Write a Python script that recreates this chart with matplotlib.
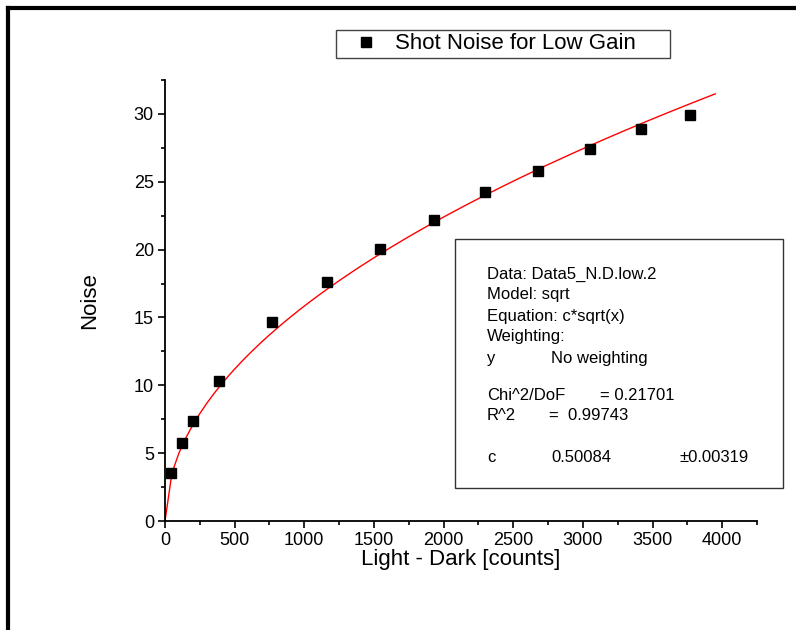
import numpy as np
import matplotlib
matplotlib.use("Agg")
import matplotlib.pyplot as plt
from matplotlib.lines import Line2D
from matplotlib.patches import Rectangle

plt.rcParams['font.family'] = ['Liberation Sans', 'DejaVu Sans']

# measured shot noise (light - dark counts vs noise)
signal = [43, 122, 201, 388, 769, 1164, 1545, 1933, 2299, 2680, 3053, 3420, 3772]
noise = [3.54, 5.75, 7.37, 10.3, 14.7, 17.6, 20.06, 22.2, 24.26, 25.8, 27.4, 28.9, 29.94]

# fit result c*sqrt(x)
c_fit = 0.50084
x_fit_max = 3950

fit_lines = [
    ("Data: Data5_N.D.low.2", 274),
    ("Model: sqrt", 295),
    ("Equation: c*sqrt(x)", 316),
    ("Weighting:", 337),
]

W, H = 796, 630
fig = plt.figure(figsize=(W / 100, H / 100), dpi=100)


def fx(x):
    return x / W


def fy(y):
    return 1 - y / H


ax = fig.add_axes([fx(165), fy(521), fx(757) - fx(165), fy(80) - fy(521)])

xf = np.linspace(0, x_fit_max, 80)
ax.plot(xf, c_fit * np.sqrt(xf), color='red', lw=1)
ax.plot(signal, noise, 's', color='black', ms=7, label='Shot Noise for Low Gain',
        zorder=3)

ax.set_xlim(0, 4250)
ax.set_ylim(0, 32.5)
ax.set_xticks(np.arange(0, 4001, 500))
ax.set_xticks(np.arange(0, 4251, 250), minor=True)
ax.set_yticks(np.arange(0, 31, 5))
ax.set_yticks(np.arange(0, 32.6, 2.5), minor=True)
ax.spines['top'].set_visible(False)
ax.spines['right'].set_visible(False)
for s in ['left', 'bottom']:
    ax.spines[s].set_linewidth(1.3)
ax.tick_params(which='major', direction='out', length=5, width=1.2, labelsize=13, pad=3)
ax.tick_params(which='minor', direction='out', length=3, width=1.2)
ax.set_xlabel('Light - Dark [counts]', fontsize=16, labelpad=0)
ax.set_ylabel('Noise', fontsize=16, labelpad=24)

leg = ax.legend(loc='upper left', bbox_to_anchor=(fx(336), fy(30)),
                bbox_transform=fig.transFigure, borderaxespad=0, fontsize=16,
                frameon=False, borderpad=0.15, handlelength=2.4, handletextpad=0.1)
fig.patches.append(Rectangle((fx(336), fy(58)), fx(670) - fx(336), fy(30) - fy(58),
                             transform=fig.transFigure, fill=False, ec='#444444', lw=1))

# fit parameters box
fig.patches.append(Rectangle((fx(455), fy(488)), fx(783) - fx(455), fy(239) - fy(488),
                             transform=fig.transFigure, fill=False, ec='#333333', lw=1))
fs = 12
for txt, yy in fit_lines:
    fig.text(fx(487), fy(yy), txt, fontsize=fs, va='center')
fig.text(fx(487), fy(358), "y", fontsize=fs, va='center')
fig.text(fx(551), fy(358), "No weighting", fontsize=fs, va='center')
fig.text(fx(487), fy(396), "Chi^2/DoF", fontsize=fs, va='center')
fig.text(fx(600), fy(396), "= 0.21701", fontsize=fs, va='center')
fig.text(fx(487), fy(415), "R^2", fontsize=fs, va='center')
fig.text(fx(549), fy(415), "=  0.99743", fontsize=fs, va='center')
fig.text(fx(487), fy(457), "c", fontsize=fs, va='center')
fig.text(fx(551), fy(457), "0.50084", fontsize=fs, va='center')
fig.text(fx(680), fy(457), "\u00b10.00319", fontsize=fs, va='center')

# outer frame (top and left edge)
fig.add_artist(Line2D([fx(8), 1], [fy(8), fy(8)], color='black', lw=3))
fig.add_artist(Line2D([fx(8), fx(8)], [fy(8), 0], color='black', lw=3))

fig.savefig('out.png', dpi=100)
